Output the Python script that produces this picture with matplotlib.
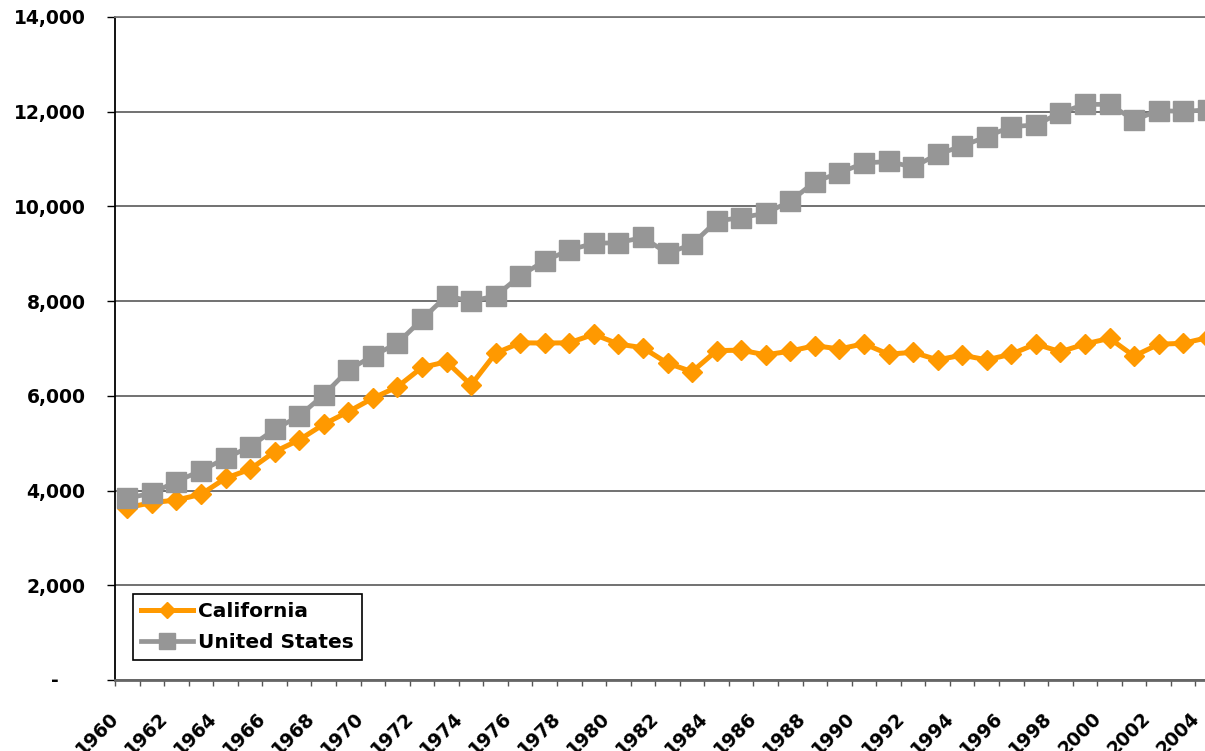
import numpy as np
import matplotlib
matplotlib.use("Agg")
import matplotlib.pyplot as plt
import matplotlib.transforms as mtransforms

# values
years = list(range(1960, 2005))
california = [3640, 3745, 3800, 3920, 4260, 4450, 4820, 5070, 5400, 5665,
              5950, 6190, 6600, 6720, 6230, 6900, 7120, 7115, 7120, 7300,
              7095, 7015, 6690, 6510, 6955, 6965, 6865, 6945, 7060, 6990,
              7100, 6880, 6920, 6760, 6860, 6760, 6880, 7095, 6930, 7095,
              7215, 6840, 7090, 7110, 7230]
united_states = [3840, 3945, 4190, 4420, 4680, 4930, 5290, 5575, 6020, 6545,
                 6845, 7110, 7615, 8110, 8000, 8110, 8535, 8850, 9080, 9220,
                 9235, 9345, 9010, 9200, 9690, 9765, 9855, 10110, 10520, 10710,
                 10915, 10950, 10830, 11100, 11275, 11475, 11685, 11720, 11980, 12155,
                 12155, 11825, 12025, 12005, 12040]
ytick_vals = [0, 2000, 4000, 6000, 8000, 10000, 12000, 14000]
ytick_labels = ["", "2,000", "4,000", "6,000", "8,000", "10,000", "12,000", "14,000"]

orange = "#FF9900"
gray = "#969696"

plt.rcParams['font.family'] = ['DejaVu Sans']
plt.rcParams['font.weight'] = 'bold'

fig = plt.figure(figsize=(12.05, 7.51), dpi=100)
ax = fig.add_axes([115 / 1205, 71 / 751, 1105 / 1205, 663 / 751])

x = np.arange(len(years))
ax.plot(x, california, color=orange, lw=3.6, marker='D', ms=10.5,
        mec=orange, mfc=orange, label="California", zorder=3)
ax.plot(x, united_states, color=gray, lw=3.4, marker='s', ms=14,
        mec=gray, mfc=gray, label="United States", zorder=4)

# y axis
ax.set_yticks(ytick_vals)
ax.set_yticklabels(ytick_labels, fontsize=13.5, fontweight='bold')
ax.tick_params(axis='y', direction='out', length=5.8, width=1.0,
               color='black', pad=15.5)
ax.yaxis.grid(True, color='#4a4a4a', lw=1.1)
ax.set_axisbelow(True)
zero_tr = mtransforms.blended_transform_factory(fig.transFigure, ax.transData)
ax.text(55 / 1205, 0, "-", transform=zero_tr, ha='center', va='center',
        fontsize=13.5, fontweight='bold')

# x axis: ticks between categories, every second year labelled
xt = np.arange(len(years) + 1) - 0.5
xl = [str(years[i]) if (i < len(years) and i % 2 == 0) else "" for i in range(len(xt))]
ax.set_xticks(xt)
ax.tick_params(axis='x', direction='out', length=4.5, width=1.0,
               color='#555555', pad=16)
ax.set_xticklabels(xl, fontsize=13.5, fontweight='bold', rotation=45,
                   ha='right', va='top', rotation_mode='anchor')
shift = mtransforms.ScaledTranslation(-0.06, 0, fig.dpi_scale_trans)
for lbl in ax.get_xticklabels():
    lbl.set_transform(lbl.get_transform() + shift)

ax.set_xlim(-0.5, len(years) - 0.5)
ax.set_ylim(0, 14000)

ax.spines['right'].set_visible(False)
ax.spines['top'].set_color('#777777')
ax.spines['top'].set_linewidth(1.3)
ax.spines['left'].set_color('black')
ax.spines['left'].set_linewidth(1.3)
ax.spines['bottom'].set_color('#666666')
ax.spines['bottom'].set_linewidth(2.0)

leg = ax.legend(loc='lower left', bbox_to_anchor=(133 / 1205, 91 / 751),
                bbox_transform=fig.transFigure, frameon=True, fancybox=False,
                framealpha=1, edgecolor='black', borderaxespad=0,
                prop={'size': 14.5, 'weight': 'bold'}, handlelength=2.6,
                handletextpad=0.25, borderpad=0.4, labelspacing=0.6)
leg.get_frame().set_linewidth(1.2)
leg.legend_handles[0].set_markersize(8)
leg.legend_handles[1].set_markersize(12)

fig.savefig("out.png", dpi=100)
